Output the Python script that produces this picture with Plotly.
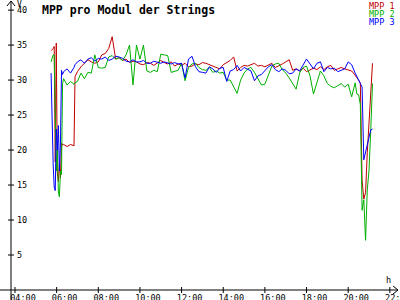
import plotly.graph_objects as go

DAY = "2024-01-01 "

times = ["05:44", "05:47", "05:50", "05:53", "05:56", "05:59", "06:02", "06:05", "06:08", "06:11",
         "06:14", "06:17", "06:20", "06:30", "06:40", "06:50", "06:53",
         "07:00", "07:10", "07:20", "07:30", "07:40", "07:50",
         "08:00", "08:10", "08:20", "08:30", "08:40", "08:50",
         "09:00", "09:10", "09:20", "09:30", "09:40", "09:50",
         "10:00", "10:10", "10:20", "10:30", "10:40", "10:50",
         "11:00", "11:10", "11:20", "11:30", "11:40", "11:50",
         "12:00", "12:10", "12:20", "12:30", "12:40", "12:50",
         "13:00", "13:10", "13:20", "13:30", "13:40", "13:50",
         "14:00", "14:10", "14:20", "14:30", "14:40", "14:50",
         "15:00", "15:10", "15:20", "15:30", "15:40", "15:50",
         "16:00", "16:10", "16:20", "16:30", "16:40", "16:50",
         "17:00", "17:10", "17:20", "17:30", "17:40", "17:50",
         "18:00", "18:10", "18:20", "18:30", "18:40", "18:50",
         "19:00", "19:10", "19:20", "19:30", "19:40", "19:50",
         "20:00", "20:10", "20:20", "20:25", "20:30", "20:35", "20:40", "20:45", "20:50", "20:55",
         "21:00", "21:05", "21:10"]

mpp1 = [34.2, 34.3, 34.5, 34.8, 18.3, 35.3, 16.7, 15.5, 18.0, 16.0,
        21.0, 20.7, 20.8, 20.5, 20.8, 20.6, 30.5,
        31.2, 31.9, 32.4, 32.9, 32.6, 32.4,
        32.6, 33.6, 33.8, 34.5, 36.2, 33.0,
        33.2, 32.8, 33.0, 32.5, 32.7, 32.6,
        32.3, 32.2, 32.5, 32.4, 32.1, 32.4,
        32.8, 32.5, 32.3, 32.6, 32.0, 32.3,
        32.1, 32.4, 31.9, 32.0, 32.3, 32.2,
        32.5, 32.4, 32.2, 32.0, 31.8, 31.6,
        32.2, 32.5, 32.8, 33.3, 31.3, 31.8,
        32.1, 32.0, 32.2, 32.4, 32.0, 32.1,
        31.9, 32.2, 32.4, 31.8, 32.0, 32.3,
        32.6, 32.9, 31.4, 31.6, 31.3, 31.7,
        31.2, 31.4, 31.7, 31.5, 31.9, 31.5,
        31.9, 32.1, 31.4, 31.6, 31.8, 31.6,
        31.4, 31.3, 30.7, 30.4, 30.0, 29.6, 15.7, 13.0, 13.9, 19.6,
        23.9, 29.0, 32.4]

mpp2 = [32.6, 33.0, 33.6, 33.6, 23.3, 17.0, 20.0, 14.0, 13.3, 17.0,
        16.5, 29.5, 30.2, 29.3, 29.8, 29.4, 29.6,
        29.8, 31.0, 30.2, 31.1, 31.0, 33.6,
        31.8, 31.7, 31.8, 33.3, 33.5, 33.0,
        33.2, 32.8, 33.6, 35.0, 29.3, 35.0,
        33.0, 35.0, 31.3, 31.1, 31.4, 31.2,
        33.7, 33.6, 33.5, 31.1, 31.3, 31.4,
        32.4, 29.9, 31.8, 32.3, 32.4, 31.8,
        31.5, 31.4, 31.8, 31.1, 31.3, 31.0,
        31.1, 30.0, 30.0, 29.0, 28.1, 30.0,
        31.0, 31.6, 31.8, 31.1, 30.3, 29.3,
        29.4, 30.6, 32.0, 32.3, 32.4, 31.5,
        31.0, 30.3, 29.4, 28.7, 31.0, 31.8,
        32.0, 30.6, 28.0, 29.5, 31.3, 30.6,
        29.5, 29.1, 28.9, 29.2, 29.5, 29.0,
        29.4, 27.6, 29.6, 28.0, 27.9, 26.5, 11.4, 12.9, 7.1, 14.3,
        17.1, 22.9, 29.5]

mpp3 = [31.0, 22.9, 18.0, 14.7, 14.2, 23.0, 20.0, 23.5, 17.0, 21.0,
        31.4, 30.8, 31.2, 31.6, 31.0, 31.8, 32.2,
        32.6, 32.9, 32.4, 33.0, 33.2, 32.7,
        33.1, 33.0, 33.3, 32.8, 33.0, 33.4,
        33.3, 33.1, 32.7, 32.6, 32.9, 32.6,
        32.6, 32.8, 32.4, 32.4, 32.7, 32.6,
        32.4, 32.6, 32.5, 32.3, 32.5, 32.3,
        32.4, 30.3, 33.0, 33.4, 31.9, 31.2,
        31.1, 31.0, 31.9, 31.6, 31.1, 31.7,
        31.8, 29.8, 31.3, 31.5, 32.1, 31.3,
        31.8, 31.5, 31.3, 29.9, 30.6, 30.8,
        31.4, 31.9, 32.2, 31.5, 31.2, 31.6,
        31.4, 30.9, 31.0, 31.6, 31.3, 32.1,
        33.0, 32.3, 31.6, 32.4, 32.6, 31.2,
        31.8, 31.6, 31.7, 31.2, 31.4, 31.6,
        32.6, 32.2, 31.0, 30.6, 30.0, 29.5, 29.0, 18.6, 19.6, 20.5,
        21.9, 22.9, 23.0]

series_names = ["MPP 1", "MPP 2", "MPP 3"]
series_colors = ["#c00000", "#00b000", "#0000ff"]

x_tick_hours = ["04:00", "06:00", "08:00", "10:00", "12:00", "14:00", "16:00",
                "18:00", "20:00", "22:00"]
y_tick_vals = [5, 10, 15, 20, 25, 30, 35, 40]
y_tick_text = ["5", "10", "15", "20", "25", "30", "35", "40"]

title_text = "MPP pro Modul der Strings"
y_unit = "V"
x_unit = "h"

X_RANGE = [DAY + "03:48:30", DAY + "22:23:30"]
Y_RANGE = [0, 41.3]
FONT = "DejaVu Sans Mono"

xs = [DAY + t for t in times]

fig = go.Figure()
for name, vals, col in zip(series_names, [mpp1, mpp2, mpp3], series_colors):
    fig.add_trace(go.Scatter(x=xs, y=vals, mode="lines", name=name,
                             line=dict(color=col, width=1), showlegend=False,
                             hoverinfo="skip"))

shapes = []
# axis lines (extend beyond crossing, as in reference)
shapes.append(dict(type="line", xref="paper", yref="paper", x0=-11 / 387, x1=1, y0=0, y1=0,
                   line=dict(color="black", width=1)))
shapes.append(dict(type="line", xref="paper", yref="paper", x0=0, x1=0, y0=-10 / 289, y1=1,
                   line=dict(color="black", width=1)))
# arrow heads
shapes.append(dict(type="path", xref="paper", yref="paper", xsizemode="pixel", ysizemode="pixel",
                   xanchor=1, yanchor=0, path="M -5 4 L 0 0 L -5 -4",
                   line=dict(color="black", width=1)))
shapes.append(dict(type="path", xref="paper", yref="paper", xsizemode="pixel", ysizemode="pixel",
                   xanchor=0, yanchor=1, path="M -4 -5 L 0 0 L 4 -5",
                   line=dict(color="black", width=1)))
# tick crosses
for t in x_tick_hours:
    shapes.append(dict(type="line", xref="x", yref="paper", ysizemode="pixel", yanchor=0,
                       x0=DAY + t, x1=DAY + t, y0=-3, y1=3, line=dict(color="black", width=1)))
for v in y_tick_vals:
    shapes.append(dict(type="line", xref="paper", yref="y", xsizemode="pixel", xanchor=0,
                       x0=-3, x1=3, y0=v, y1=v, line=dict(color="black", width=1)))

annotations = [
    dict(text="<b>" + title_text + "</b>", xref="paper", yref="paper", x=29 / 387, y=1,
         xanchor="left", yanchor="top", showarrow=False, yshift=0,
         font=dict(family=FONT, size=11.5, color="black")),
    dict(text=y_unit, xref="paper", yref="paper", x=5 / 387, y=1, xanchor="left", yanchor="top",
         showarrow=False, yshift=2, borderpad=0, font=dict(family=FONT, size=8, color="black")),
    dict(text=x_unit, xref="paper", yref="paper", x=373 / 387, y=0, xanchor="left",
         yanchor="bottom", showarrow=False, yshift=3, font=dict(family=FONT, size=8.5, color="black")),
]
for i, (name, col) in enumerate(zip(series_names, series_colors)):
    annotations.append(dict(text=name, xref="paper", yref="paper", x=1, y=1, xanchor="right",
                            yanchor="top", xshift=-2, yshift=1 - 8 * i, showarrow=False,
                            borderpad=0,
                            font=dict(family=FONT, size=8.5, color=col)))

fig.update_layout(
    width=400, height=300,
    margin=dict(l=11, r=2, t=1, b=10, pad=0, autoexpand=False),
    paper_bgcolor="white", plot_bgcolor="white",
    shapes=shapes, annotations=annotations,
    xaxis=dict(type="date", range=X_RANGE, showgrid=False, zeroline=False, showline=False,
               ticks="", tickvals=[DAY + t for t in x_tick_hours], ticktext=x_tick_hours,
               tickfont=dict(family=FONT, size=8.5, color="black"), ticklabelshift=8,
               ticklabelstandoff=1, ticklabeloverflow="allow", automargin=False,
               fixedrange=True),
    yaxis=dict(range=Y_RANGE, showgrid=False, zeroline=False, showline=False, ticks="",
               tickvals=y_tick_vals, ticktext=y_tick_text, ticklabelposition="inside",
               tickfont=dict(family=FONT, size=8.5, color="black"), ticklabelstandoff=3,
               ticklabeloverflow="allow", automargin=False, fixedrange=True),
)

fig.write_html("out.html", config={"displayModeBar": False})
